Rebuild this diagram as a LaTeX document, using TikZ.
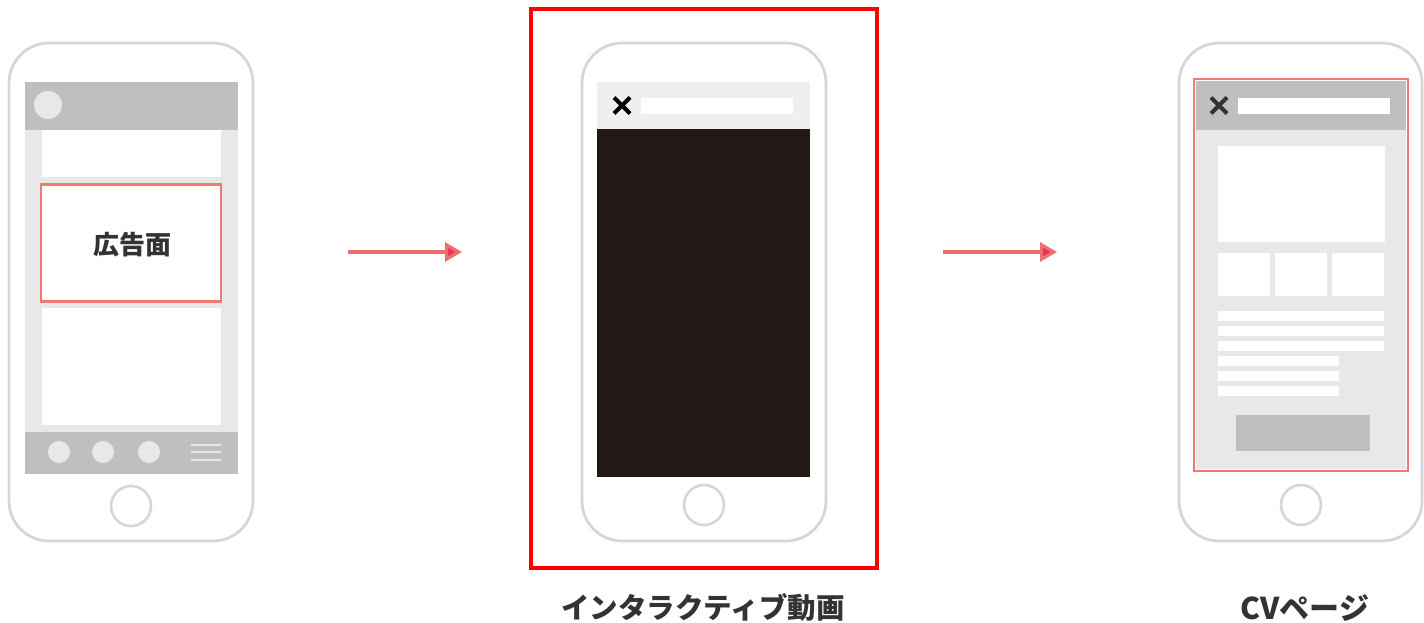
\documentclass[tikz,border=0pt]{standalone}
\usepackage{fontspec}
\newfontfamily\jp{Noto Sans CJK JP}
\usetikzlibrary{arrows.meta}
\definecolor{phoneline}{HTML}{D5D6D9}
\definecolor{bargray}{HTML}{BFBFBF}
\definecolor{lightgray}{HTML}{E8E8E8}
\definecolor{paletop}{HTML}{EFEFEF}
\definecolor{videodark}{HTML}{231816}
\definecolor{adred}{HTML}{F07A72}
\definecolor{framered}{HTML}{FF0000}
\definecolor{arrowline}{HTML}{EF6F70}
\definecolor{arrowfill}{HTML}{E8325A}
\definecolor{textdark}{HTML}{333333}
\tikzset{
  phone/.style={draw=phoneline, line width=2.8pt, rounded corners=40pt, fill=white},
  homebtn/.style={draw=phoneline, line width=2.6pt, fill=white, circle, minimum size=40pt, inner sep=0pt},
  flowarrow/.style={draw=arrowline, line width=3.2pt, -{Triangle[length=17pt,width=19pt,fill=arrowfill,sep=0pt]}},
  label/.style={font=\jp\bfseries\fontsize{28.5pt}{30pt}\selectfont, text=textdark, inner sep=0pt},
  xmark/.style={line width=4.2pt},
}
\begin{document}
\begin{tikzpicture}[x=1pt,y=-1pt]
\useasboundingbox (0,0) rectangle (1424,622);

% ---------- Phone 1 ----------
\draw[phone] (9,43) rectangle (253,541);
\fill[lightgray] (25,130) rectangle (238,432);
\fill[bargray] (25,82) rectangle (238,130);
\fill[lightgray] (48,105) circle (14);
\fill[white] (42,130) rectangle (221,177);
\node[draw=adred, line width=2.2pt, fill=white, minimum width=180pt, minimum height=117pt, inner sep=0pt] (ad) at (131,243) {};
\node[label, font=\jp\bfseries\fontsize{26pt}{28pt}\selectfont] (adtext) at (132.5,245) {広告面};
\fill[white] (42,308) rectangle (221,425);
\fill[bargray] (25,432) rectangle (238,474);
\foreach \cx in {59,103,149} \fill[lightgray] (\cx,452) circle (11);
\foreach \ly in {445,452,460} \draw[lightgray, line width=1.6pt] (191,\ly) -- (221,\ly);
\node[homebtn] (h1) at (131,506) {};

% ---------- Arrow 1 ----------
\coordinate (a1s) at (348,252);
\coordinate (a1e) at (462,252);
\draw[flowarrow] (a1s) -- (a1e);

% ---------- Phone 2 ----------
\node[draw=framered, line width=3.8pt, minimum width=346pt, minimum height=559pt, inner sep=0pt] (frame) at (704,288.5) {};
\draw[phone] (582,43) rectangle (826,541);
\fill[paletop] (597,82) rectangle (810,129);
\fill[white] (641,98) rectangle (793,114);
\draw[xmark, black] (614,97.5) -- (630,113.5) (630,97.5) -- (614,113.5);
\fill[videodark] (597,129) rectangle (810,477);
\node[homebtn] (h2) at (704,505) {};
\node[label] (t2) at (703,608) {インタラクティブ動画};

% ---------- Arrow 2 ----------
\coordinate (a2s) at (943,252);
\coordinate (a2e) at (1057,252);
\draw[flowarrow] (a2s) -- (a2e);

% ---------- Phone 3 ----------
\draw[phone] (1179,43) rectangle (1422,541);
\fill[lightgray] (1196,130) rectangle (1406,469);
\fill[bargray] (1196,81) rectangle (1406,130);
\fill[white] (1238,98) rectangle (1390,114);
\draw[xmark, textdark] (1211,97.5) -- (1227,113.5) (1227,97.5) -- (1211,113.5);
\fill[white] (1218,146) rectangle (1385,242);
\fill[white] (1218,253) rectangle (1270,296);
\fill[white] (1275,253) rectangle (1327,296);
\fill[white] (1332,253) rectangle (1384,296);
\foreach \ly in {311,326,341} \fill[white] (1218,\ly) rectangle (1384,\ly+10);
\foreach \ly in {356,371,386} \fill[white] (1218,\ly) rectangle (1339,\ly+10);
\fill[bargray] (1236,415) rectangle (1370,451);
\node[draw=adred, line width=2.2pt, minimum width=214pt, minimum height=392pt, inner sep=0pt] (cvframe) at (1301,275) {};
\node[homebtn] (h3) at (1301,505) {};
\node[label, font=\jp\bfseries\fontsize{30pt}{32pt}\selectfont] (t3) at (1305,608) {CVページ};
\end{tikzpicture}
\end{document}
